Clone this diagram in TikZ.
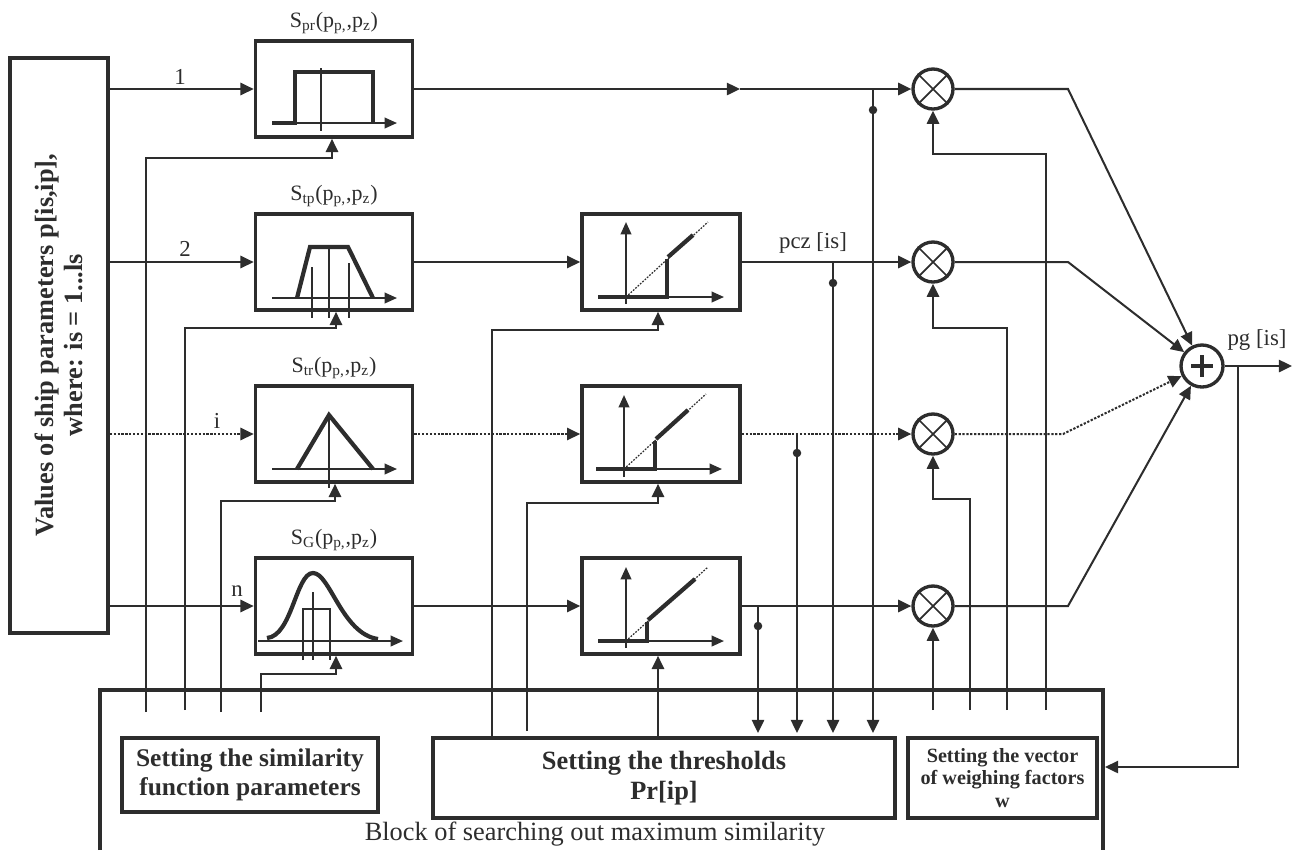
\documentclass[tikz,border=0pt]{standalone}
\usepackage{fontspec}
\setmainfont{Liberation Serif}
\usetikzlibrary{arrows.meta,calc}
\definecolor{ink}{RGB}{45,45,45}
\begin{document}
\begin{tikzpicture}[x=0.02cm,y=-0.02cm,color=ink,
  conn/.style={line width=1.15pt},
  arr/.style={conn,-{Triangle[length=7.5pt,width=7pt]}},
  ax/.style={line width=1.1pt,-{Triangle[length=7pt,width=6pt]}},
  thk/.style={line width=2.4pt},
  dotl/.style={dash pattern=on 1.3pt off 0.9pt},
  fine/.style={line width=0.7pt,dash pattern=on 1pt off 0.8pt},
  box/.style={draw,line width=2.1pt,inner sep=0pt},
  fbox/.style={box,minimum width=3.14cm,minimum height=1.92cm},
  tbox/.style={box,minimum width=3.16cm,minimum height=1.92cm},
  mult/.style={circle,draw,line width=1.9pt,minimum size=0.8cm,inner sep=0pt},
  jdot/.style={circle,fill=ink,inner sep=0pt,minimum size=0.17cm},
  lab/.style={font=\fontsize{13}{15}\selectfont,inner sep=1pt},
  ttl/.style={font=\fontsize{12.5}{15}\selectfont,inner sep=1pt,anchor=south,yshift=2pt}]
\useasboundingbox (0,0) rectangle (1294,850);

% ---------- source box ----------
\node[box,minimum width=1.96cm,minimum height=11.5cm] (src) at (59,345.5) {};
\node[rotate=90,align=center,font=\bfseries\fontsize{15}{16.5}\selectfont] (srct) at (59,345)
  {Values of ship parameters p[is,ip],\\ where: is = 1...ls};

% ---------- similarity function boxes ----------
\node[fbox] (f1) at (334,89) {};
\node[fbox] (f2) at (334,262) {};
\node[fbox] (f3) at (334,434) {};
\node[fbox] (f4) at (334,606) {};
\node[ttl] (ti1) at (f1.north) {S\textsubscript{pr}(p\textsubscript{p,},p\textsubscript{z})};
\node[ttl] (ti2) at (f2.north) {S\textsubscript{tp}(p\textsubscript{p,},p\textsubscript{z})};
\node[ttl] (ti3) at (f3.north) {S\textsubscript{tr}(p\textsubscript{p,},p\textsubscript{z})};
\node[ttl] (ti4) at (f4.north) {S\textsubscript{G}(p\textsubscript{p,},p\textsubscript{z})};

% ---------- threshold boxes ----------
\node[tbox] (t1) at (661,262) {};
\node[tbox] (t2) at (661,434) {};
\node[tbox] (t3) at (661,606) {};

% ---------- multipliers and sum ----------
\node[mult] (m1) at (933,89) {};
\node[mult] (m2) at (933,262) {};
\node[mult] (m3) at (933,434) {};
\node[mult] (m4) at (933,606) {};
\foreach \m in {m1,m2,m3,m4}{
  \draw[line width=1pt] (\m.north west) -- (\m.south east) (\m.north east) -- (\m.south west);
}
\node[mult,minimum size=0.84cm] (s) at (1202,366) {};
\draw[line width=2.1pt] ($(s)+(-11,0)$) -- ($(s)+(11,0)$) ($(s)+(0,-11)$) -- ($(s)+(0,11)$);

% ---------- lower block ----------
\draw[line width=2pt] (100,850) -- (100,690) -- (1103,690) -- (1103,850);
\node[box,line width=1.9pt,minimum width=5.12cm,minimum height=1.48cm,align=center,
  font=\bfseries\fontsize{14.5}{16.5}\selectfont] (sp) at (250,775)
  {Setting the similarity\\function parameters};
\node[box,line width=1.9pt,minimum width=9.24cm,minimum height=1.6cm,align=center,
  font=\bfseries\fontsize{15}{17}\selectfont] (th) at (664,778)
  {Setting the thresholds\\Pr[ip]};
\node[box,line width=1.9pt,minimum width=3.78cm,minimum height=1.6cm,align=center,
  font=\bfseries\fontsize{11.5}{13}\selectfont] (wv) at (1002.5,778)
  {Setting the vector\\of weighing factors\\w};
\node[font=\fontsize{15}{18}\selectfont,inner sep=1pt] (blk) at (595,834)
  {Block of searching out maximum similarity};

% ---------- inputs ----------
\draw[arr] (src.east|-f1.west) -- (f1.west);
\draw[arr] (src.east|-f2.west) -- (f2.west);
\draw[arr,dotl] (src.east|-f3.west) -- (f3.west);
\draw[arr] (src.east|-f4.west) -- (f4.west);
\node[lab] (l1) at (180,77) {1};
\node[lab] (l2) at (185,249) {2};
\node[lab] (l3) at (217,421) {i};
\node[lab] (l4) at (237,591) {n};

% ---------- function -> threshold ----------
\coordinate (mid1) at (740,89);
\draw[arr] (f1.east) -- (mid1);
\draw[arr] (mid1) -- (m1.west);
\draw[arr] (f2.east) -- (t1.west);
\draw[arr,dotl] (f3.east) -- (t2.west);
\draw[arr] (f4.east) -- (t3.west);

% ---------- threshold -> multipliers ----------
\draw[arr] (t1.east) -- (m2.west);
\draw[arr,dotl] (t2.east) -- (m3.west);
\draw[arr] (t3.east) -- (m4.west);
\node[lab] (pcz) at (813,243) {pcz [is]};

% ---------- multipliers -> sum ----------
\draw[arr] (m1.east) -- (1068,89) -- (s);
\draw[arr] (m2.east) -- (1068,262) -- (s);
\draw[arr,dotl] (m3.east) -- (1063,434) -- (s);
\draw[arr] (m4.east) -- (1068,606) -- (s);

% ---------- output and feedback ----------
\coordinate (out) at (1292,366);
\draw[arr] (s.east) -- (out);
\node[lab] (pg) at (1257,340) {pg [is]};
\coordinate (fb) at (1105,767);
\draw[arr] (1238,366) -- (1238,767) -- (fb);

% ---------- taps into the threshold setting ----------
\draw[arr] (873,89) -- (873,733);
\node[jdot] (d1) at (873,110) {};
\draw[arr] (833,262) -- (833,733);
\node[jdot] (d2) at (833,283) {};
\draw[arr] (797,434) -- (797,733);
\node[jdot] (d3) at (797,453) {};
\draw[arr] (758,606) -- (758,733);
\node[jdot] (d4) at (758,626) {};

% ---------- threshold control ----------
\draw[arr] (492,0|-th.north) -- (492,330) -- (658,330) -- (658,0|-t1.south);
\draw[arr] (527,731) -- (527,503) -- (658,503) -- (658,0|-t2.south);
\draw[arr] (658,0|-th.north) -- (658,0|-t3.south);

% ---------- similarity control ----------
\draw[arr] (146,712) -- (146,158) -- (332,158) -- (332,0|-f1.south);
\draw[arr] (185,710) -- (185,328) -- (336,328) -- (336,0|-f2.south);
\draw[arr] (221,712) -- (221,501) -- (335,501) -- (335,0|-f3.south);
\draw[arr] (261,712) -- (261,674) -- (336,674) -- (336,0|-f4.south);

% ---------- weights ----------
\draw[arr] (1046,710) -- (1046,154) -- (933,154) -- (m1.south);
\draw[arr] (1007,710) -- (1007,328) -- (933,328) -- (m2.south);
\draw[arr] (970,710) -- (970,499) -- (933,499) -- (m3.south);
\draw[arr] (933,710) -- (m4.south);

% ---------- graphs in function boxes ----------
% rectangular
\draw[ax] (272,123) -- (397,123);
\draw[thk] (272,123) -- (295,123) -- (295,72) -- (373,72) -- (373,123);
\draw[conn] (321,68) -- (321,131);
% trapezoid
\draw[ax] (272,298) -- (397,298);
\draw[thk] (297,298) -- (310,247) -- (348,247) -- (373,298);
\draw[conn] (312,267) -- (312,318) (329,247) -- (329,318) (349,263) -- (349,318);
% triangle
\draw[ax] (272,469) -- (397,469);
\draw[thk] (297,469) -- (329,415) -- (373,469);
\draw[conn] (329,415) -- (329,488);
% gaussian
\draw[ax] (258,641) -- (403,641);
\draw[thk] (267,638) .. controls (292,636) and (296,573) .. (313,573)
  .. controls (330,573) and (342,634) .. (378,639);
\draw[conn] (303,660) -- (303,609) -- (330,609) -- (330,660) (313,592) -- (313,660);

% ---------- graphs in threshold boxes ----------
\draw[ax] (626,304) -- (626,222);
\draw[ax] (598,297) -- (724,297);
\draw[fine] (626,297) -- (708,222);
\draw[thk] (598,297) -- (667,297) -- (667,259);
\draw[thk] (668,257) -- (693,235);

\draw[ax] (624,477) -- (624,395);
\draw[ax] (596,469) -- (722,469);
\draw[fine] (624,469) -- (706,394);
\draw[thk] (596,469) -- (655,469) -- (655,441);
\draw[thk] (656,439) -- (688,410);

\draw[ax] (626,648) -- (626,567);
\draw[ax] (598,641) -- (724,641);
\draw[fine] (626,641) -- (708,567);
\draw[thk] (598,641) -- (647,641) -- (647,622);
\draw[thk] (648,620) -- (695,579);
\end{tikzpicture}
\end{document}
